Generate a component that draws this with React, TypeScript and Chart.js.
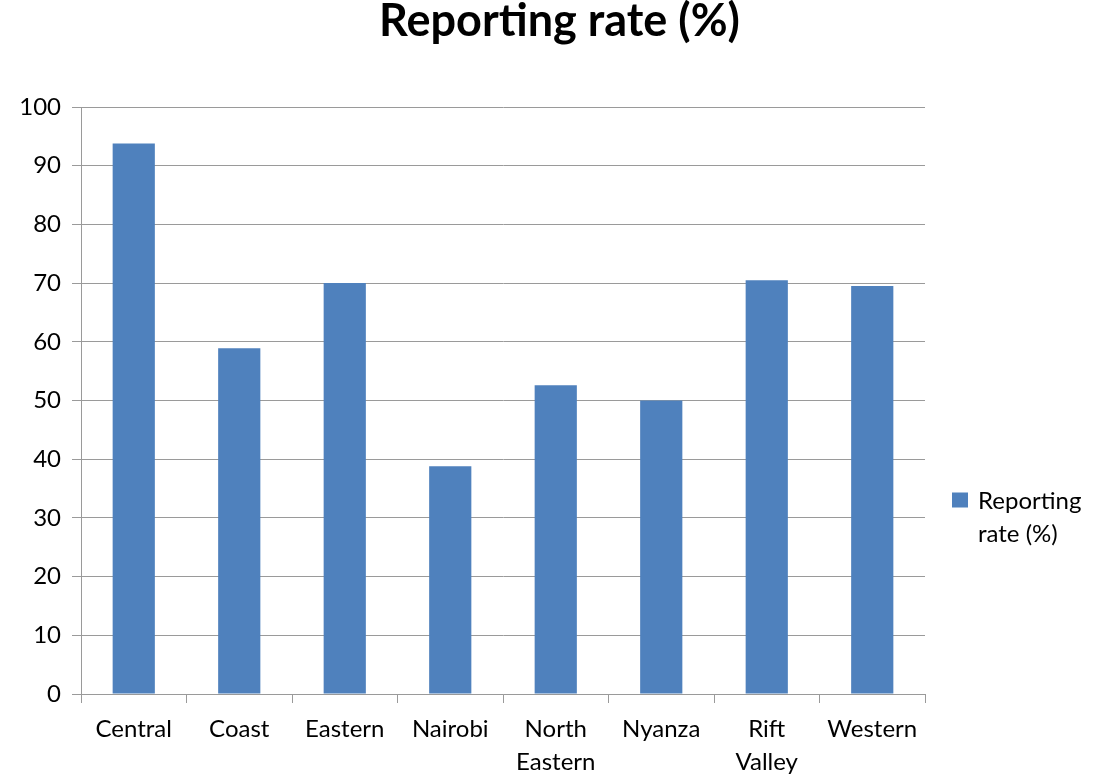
import React, { useEffect, useRef } from "react";
import { Chart, registerables } from "chart.js";

Chart.register(...registerables);

// Regions and their reporting rates
const categories: (string | string[])[] = [
  "Central",
  "Coast",
  "Eastern",
  "Nairobi",
  ["North", "Eastern"],
  "Nyanza",
  ["Rift", "Valley"],
  "Western",
];
const reportingRate: number[] = [93.8, 58.9, 70.0, 38.8, 52.6, 50.0, 70.5, 69.5];

const seriesName = "Reporting rate (%)";
const legendLines: string[] = ["Reporting", "rate (%)"];
const yTicks: number[] = [0, 10, 20, 30, 40, 50, 60, 70, 80, 90, 100];

const FONT = "Lato, 'Open Sans', sans-serif";
const BAR = "#4F81BD";
const GRID = "#9a9a9a";

// Title centred on the whole canvas, legend to the right of the plot with a wrapped label
const chartDecor = {
  id: "chartDecor",
  afterDraw(chart: Chart) {
    const { ctx, chartArea, width } = chart;
    ctx.save();
    ctx.fillStyle = "#000";
    ctx.font = `bold 45px ${FONT}`;
    ctx.textAlign = "center";
    ctx.textBaseline = "alphabetic";
    ctx.fillText(seriesName, width / 2 + 5, 36);

    const x0 = chartArea.right + 27;
    const yMid = (chartArea.top + chartArea.bottom) / 2;
    ctx.fillStyle = BAR;
    ctx.fillRect(x0, yMid + 92, 16, 15);
    ctx.fillStyle = "#000";
    ctx.font = `24px ${FONT}`;
    ctx.textAlign = "left";
    legendLines.forEach((line, i) => {
      ctx.fillText(line, x0 + 26, yMid + 108 + i * 33);
    });
    ctx.restore();
  },
};

export default function App() {
  const canvasRef = useRef<HTMLCanvasElement | null>(null);

  useEffect(() => {
    document.body.style.margin = "0";
    const canvas = canvasRef.current;
    if (!canvas) return;
    const chart = new Chart(canvas, {
      type: "bar",
      data: {
        labels: categories,
        datasets: [
          {
            label: seriesName,
            data: reportingRate,
            backgroundColor: BAR,
            barPercentage: 0.4,
            categoryPercentage: 1,
          },
        ],
      },
      options: {
        responsive: false,
        animation: false,
        layout: { padding: { left: 0, right: 184, top: 107, bottom: 0 } },
        plugins: {
          legend: { display: false },
          tooltip: { enabled: false },
          title: { display: false },
        },
        scales: {
          x: {
            afterFit(scale: any) {
              scale.height = 80;
            },
            grid: {
              offset: true,
              drawOnChartArea: false,
              drawTicks: true,
              tickLength: 9,
              color: GRID,
            },
            border: { display: true, color: GRID, width: 1 },
            ticks: {
              color: "#000",
              font: { family: FONT, size: 24, lineHeight: 1.4 },
              padding: 9,
              maxRotation: 0,
              autoSkip: false,
            },
          },
          y: {
            min: 0,
            max: 100,
            afterFit(scale: any) {
              scale.width = 81;
            },
            afterBuildTicks(scale: any) {
              scale.ticks = yTicks.map((v) => ({ value: v }));
            },
            grid: {
              color: GRID,
              drawTicks: true,
              tickLength: 9,
            },
            border: { display: true, color: GRID, width: 1 },
            ticks: {
              color: "#000",
              font: { family: FONT, size: 24 },
              padding: 11,
            },
          },
        },
      },
      plugins: [chartDecor],
    });
    return () => chart.destroy();
  }, []);

  return (
    <div style={{ width: 1109, height: 774 }}>
      <canvas ref={canvasRef} width={1109} height={774} />
    </div>
  );
}
